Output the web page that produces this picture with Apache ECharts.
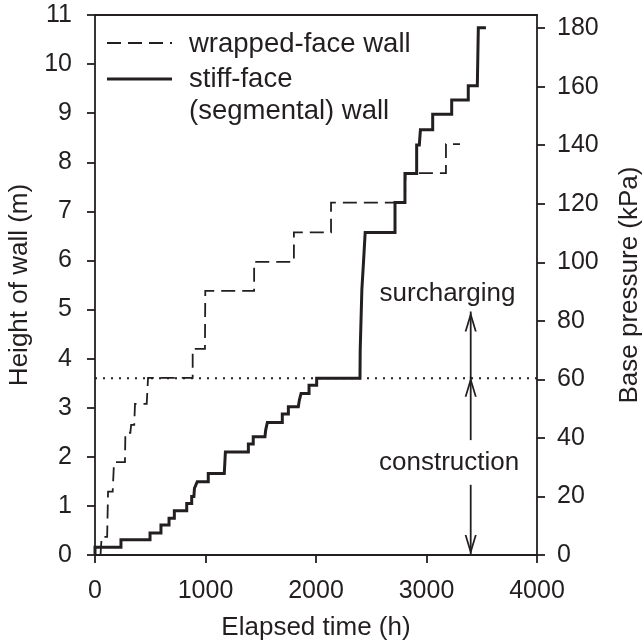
<!DOCTYPE html>
<html><head><meta charset="utf-8">
<script src="https://cdn.jsdelivr.net/npm/echarts@6/dist/echarts.min.js"></script>
<style>html,body{margin:0;padding:0;background:#fff}#c{width:644px;height:644px}</style>
</head><body><div id="c"></div>
<script>
// ---- data ----
const wrappedTime   = [50, 60, 110, 118, 160, 172, 271, 275, 320, 327, 355, 362, 468, 480, 884, 884, 995, 998, 1440, 1440, 1800, 1800, 2136, 2136, 2805, 2810, 3176, 3176, 3303];
const wrappedHeight = [0, 0.37, 0.37, 1.29, 1.29, 1.89, 1.89, 2.49, 2.49, 2.65, 2.65, 3.08, 3.08, 3.61, 3.61, 4.2, 4.2, 5.38, 5.38, 5.97, 5.97, 6.57, 6.57, 7.18, 7.18, 7.78, 7.78, 8.37, 8.37];
const stiffTime   = [0, 0, 235, 235, 498, 498, 597, 597, 670, 670, 718, 718, 830, 830, 875, 875, 895, 900, 915, 925, 1025, 1025, 1170, 1180, 1388, 1388, 1432, 1432, 1538, 1545, 1560, 1695, 1695, 1750, 1750, 1840, 1850, 1865, 1937, 1937, 2006, 2006, 2398, 2400, 2415, 2430, 2445, 2715, 2715, 2805, 2805, 2911, 2911, 2935, 2945, 3056, 3056, 3228, 3228, 3378, 3378, 3460, 3469, 3538];
const stiffHeight = [0, 0.16, 0.16, 0.31, 0.31, 0.45, 0.45, 0.61, 0.61, 0.75, 0.75, 0.90, 0.90, 1.05, 1.05, 1.19, 1.19, 1.36, 1.36, 1.49, 1.49, 1.66, 1.66, 2.10, 2.10, 2.26, 2.26, 2.41, 2.41, 2.55, 2.70, 2.70, 2.87, 2.87, 3.02, 3.02, 3.16, 3.29, 3.29, 3.46, 3.46, 3.60, 3.60, 4.18, 5.40, 5.97, 6.57, 6.57, 7.18, 7.18, 7.77, 7.77, 8.35, 8.35, 8.66, 8.66, 8.98, 8.98, 9.27, 9.27, 9.56, 9.56, 10.74, 10.74];
const timeTicks = [0, 1000, 2000, 3000, 4000];
const heightTicks = [0, 1, 2, 3, 4, 5, 6, 7, 8, 9, 10, 11];
const pressureTicks = [0, 20, 40, 60, 80, 100, 120, 140, 160, 180];
const pressureMax = 184.5;
const thresholdHeight = 3.6;          // end of construction (= 60 kPa)
const arrowTime = 3400;
const surchargeArrow = [3.6, 4.96];   // from, tip (m)
const constructionUpArrow = [2.34, 3.63];
const constructionDownArrow = [1.43, 0];
const surchargeLabel = [3190, 5.32];
const constructionLabel = [3205, 1.87];
const seriesNames = ['wrapped-face wall', 'stiff-face\n(segmental) wall'];

// ---- chart ----
const INK = '#231f20';
const FONT = 'Liberation Sans, Arial, sans-serif';
const zip = (a, b) => a.map((v, i) => [v, b[i]]);
const chart = echarts.init(document.getElementById('c'), null, {renderer: 'canvas'});
const upHead = 'path://M6,0L12,20L10.2,20L6,6L1.8,20L0,20Z';
const downHead = 'path://M0,0L1.8,0L6,14L10.2,0L12,0L6,20Z';
const G = {left: 95, right: 107, top: 15, bottom: 89};

const axisLine = {show: true, onZero: false, lineStyle: {color: INK, width: 1.8}};
const tick = () => ({show: true, inside: false, length: 8, lineStyle: {color: INK, width: 1.8}});
const lbl = () => ({color: INK, fontSize: 25, fontFamily: FONT, formatter: v => String(v)});
const nameStyle = {color: INK, fontSize: 26, fontFamily: FONT};
const solidInk = {color: INK, opacity: 1};

function arrowLine(pts) {
  return {type: 'line', xAxisIndex: 0, yAxisIndex: 0, data: pts, symbol: 'none', silent: true,
    lineStyle: {color: INK, width: 1.8, type: 'solid', opacity: 1}, z: 4};
}
function textMark(pt, text) {
  return {type: 'scatter', data: [pt], symbolSize: 0, silent: true, z: 6, itemStyle: solidInk,
    label: {show: true, position: 'inside', formatter: text, color: INK, opacity: 1, fontSize: 26, fontFamily: FONT}};
}

chart.setOption({
  animation: false,
  backgroundColor: '#fff',
  grid: {left: G.left, right: G.right, top: G.top, bottom: G.bottom, containLabel: false, outerBoundsMode: 'none'},
  xAxis: [
    {type: 'value', min: timeTicks[0], max: timeTicks[timeTicks.length - 1], interval: 1000,
     name: 'Elapsed time (h)', nameLocation: 'middle', nameGap: 60, nameTextStyle: nameStyle,
     axisLine: axisLine, axisTick: tick(), splitLine: {show: false},
     axisLabel: Object.assign(lbl(), {margin: 24})},
    {type: 'value', position: 'top', min: 0, max: 4000, axisLine: axisLine,
     axisTick: {show: false}, axisLabel: {show: false}, splitLine: {show: false}}
  ],
  yAxis: [
    {type: 'value', min: heightTicks[0], max: heightTicks[heightTicks.length - 1], interval: 1,
     name: 'Height of wall (m)', nameLocation: 'middle', nameGap: 60, nameRotate: 90, nameTextStyle: nameStyle,
     axisLine: axisLine, axisTick: tick(), splitLine: {show: false},
     axisLabel: Object.assign(lbl(), {margin: 23})},
    {type: 'value', position: 'right', min: 0, max: pressureMax,
     name: 'Base pressure (kPa)', nameLocation: 'middle', nameGap: 80, nameRotate: 90, nameTextStyle: nameStyle,
     axisLine: axisLine,
     axisTick: Object.assign(tick(), {customValues: pressureTicks}),
     splitLine: {show: false},
     axisLabel: Object.assign(lbl(), {margin: 20, customValues: pressureTicks})}
  ],
  series: [
    {type: 'line', name: 'threshold', data: [[timeTicks[0], thresholdHeight], [timeTicks[timeTicks.length - 1], thresholdHeight]],
     symbol: 'none', lineStyle: {color: INK, width: 2.2, type: [2, 6]}, z: 1},
    {type: 'line', name: seriesNames[0], data: zip(wrappedTime, wrappedHeight), symbol: 'none',
     lineStyle: {color: INK, width: 1.8, type: [14, 7], join: 'miter', cap: 'butt'}, z: 2},
    {type: 'line', name: seriesNames[1], data: zip(stiffTime, stiffHeight), symbol: 'none',
     lineStyle: {color: INK, width: 3, type: 'solid', join: 'miter', cap: 'butt'}, z: 3},
    arrowLine([[arrowTime, surchargeArrow[0]], [arrowTime, surchargeArrow[1]]]),
    arrowLine([[arrowTime, constructionUpArrow[0]], [arrowTime, constructionUpArrow[1]]]),
    arrowLine([[arrowTime, constructionDownArrow[0]], [arrowTime, constructionDownArrow[1]]]),
    {type: 'scatter', data: [[arrowTime, surchargeArrow[1]], [arrowTime, constructionUpArrow[1]]],
     symbol: upHead, symbolSize: [12, 20], symbolOffset: [0, '50%'], itemStyle: solidInk, z: 5, silent: true},
    {type: 'scatter', data: [[arrowTime, constructionDownArrow[1]]],
     symbol: downHead, symbolSize: [12, 20], symbolOffset: [0, '-50%'], itemStyle: solidInk, z: 5, silent: true},
    textMark(surchargeLabel, 'surcharging'),
    textMark(constructionLabel, 'construction')
  ],
  graphic: [
    {type: 'line', shape: {x1: 107, y1: 43, x2: 172, y2: 43}, style: {stroke: INK, lineWidth: 1.8, lineDash: [14, 7]}},
    {type: 'text', x: 189, y: 44, style: {text: seriesNames[0], fill: INK, font: '27.5px ' + FONT, textVerticalAlign: 'middle'}},
    {type: 'line', shape: {x1: 107, y1: 79, x2: 172, y2: 79}, style: {stroke: INK, lineWidth: 3}},
    {type: 'text', x: 189, y: 79, style: {text: 'stiff-face', fill: INK, font: '27.5px ' + FONT, textVerticalAlign: 'middle'}},
    {type: 'text', x: 189, y: 111, style: {text: '(segmental) wall', fill: INK, font: '27.5px ' + FONT, textVerticalAlign: 'middle'}}
  ]
});
</script></body></html>
